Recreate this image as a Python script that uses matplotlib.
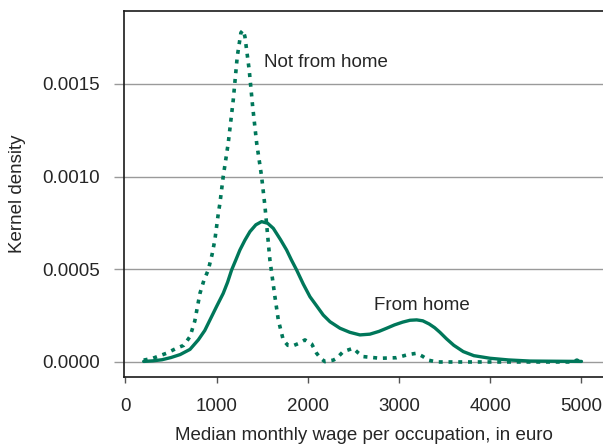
import matplotlib
matplotlib.use("Agg")
import matplotlib.pyplot as plt

plt.rcParams['font.family'] = ['Liberation Sans', 'DejaVu Sans']

# Kernel density, working from home
home_x = [200, 300, 400, 500, 600, 708, 800, 870, 927, 1000, 1072, 1120,
          1164, 1210, 1255, 1310, 1365, 1430, 1493, 1560, 1621, 1700, 1767,
          1820, 1877, 1950, 2023, 2100, 2169, 2243, 2352, 2460, 2571, 2680,
          2780, 2864, 2950, 3040, 3120, 3193, 3260, 3330, 3390, 3448, 3520,
          3600, 3704, 3820, 3997, 4200, 4435, 4700, 5000]
home_y = [0.000003, 0.000006, 0.000012, 0.000024, 0.00004, 0.000068, 0.00012,
          0.00017, 0.000227, 0.0003, 0.00037, 0.00043, 0.000496, 0.00055,
          0.000604, 0.000657, 0.000703, 0.00074, 0.000757, 0.000748,
          0.000721, 0.00066, 0.000604, 0.00055, 0.000496, 0.00042, 0.000352,
          0.0003, 0.000253, 0.000217, 0.000182, 0.00016, 0.000146, 0.00015,
          0.000165, 0.000182, 0.0002, 0.000215, 0.000225, 0.000227,
          0.000222, 0.000205, 0.000185, 0.00016, 0.000125, 0.00009,
          0.000056, 0.000034, 0.00002, 0.000011, 0.000005, 0.000004,
          0.000003]

# Kernel density, not working from home
away_x = [200, 300, 450, 560, 640, 708, 760, 817, 860, 908, 950, 981, 1018,
          1036, 1072, 1127, 1182, 1226, 1266, 1290, 1310, 1357, 1395, 1439,
          1493, 1530, 1584, 1639, 1676, 1730, 1780, 1840, 1900, 1968, 2042,
          2096, 2140, 2187, 2279, 2316, 2388, 2498, 2550, 2608, 2791, 2973,
          3100, 3193, 3260, 3320, 3412, 4000, 4500, 4900, 4950, 4990]
away_y = [0.00001, 0.00002, 0.000047, 0.000074, 0.00009, 0.000137, 0.00022,
          0.00037, 0.00044, 0.000496, 0.00058, 0.00066, 0.0008, 0.000856,
          0.001, 0.00118, 0.001413, 0.001647, 0.001776, 0.00179, 0.001755,
          0.001575, 0.001377, 0.00118, 0.001, 0.000838, 0.00055, 0.000352,
          0.000227, 0.000119, 0.00009, 0.000088, 0.0001, 0.000119, 0.000097,
          0.000047, 0.00002, 0.000002, 0.00001, 0.00002, 0.000056, 0.000074,
          0.00005, 0.000029, 0.00002, 0.000023, 0.00004, 0.000047, 0.00003,
          0.00001, 0.0, 0.0, 0.0, 0.0, 0.00001, 0.0]

x_ticks = [0, 1000, 2000, 3000, 4000, 5000]
y_ticks = [0.0, 0.0005, 0.0010, 0.0015]
y_labels = ["0.0000", "0.0005", "0.0010", "0.0015"]

green = "#00775a"
txt = "#262626"

fig = plt.figure(figsize=(6.03, 4.48), dpi=100)
ax = fig.add_axes([0.2056, 0.1585, 0.7944, 0.8169])

ax.grid(axis="y", color="#9a9a9a", linewidth=1.0)
ax.set_axisbelow(True)

ax.plot(away_x, away_y, color=green, linewidth=2.6, linestyle=(0, (1.1, 1.6)))
ax.plot(home_x, home_y, color=green, linewidth=2.4, solid_capstyle="round",
        solid_joinstyle="round")

ax.text(1519, 0.001613, "Not from home", fontsize=13.5, color=txt,
        va="center", ha="left")
ax.text(2725, 0.000307, "From home", fontsize=13.5, color=txt,
        va="center", ha="left")

ax.set_xlim(-16, 5236)
ax.set_ylim(-0.000081, 0.001893)
ax.set_xticks(x_ticks)
ax.set_yticks(y_ticks)
ax.set_yticklabels(y_labels)

ax.spines["right"].set_visible(False)
for s in ["left", "top", "bottom"]:
    ax.spines[s].set_color("#1a1a1a")
    ax.spines[s].set_linewidth(1.2)

ax.tick_params(axis="y", length=7, width=1.0, color="#9a9a9a", pad=10,
               labelsize=13.5, labelcolor=txt)
ax.tick_params(axis="x", length=4, width=1.0, color="#555555", pad=11,
               labelsize=13.5, labelcolor=txt)

ax.set_xlabel("Median monthly wage per occupation, in euro", fontsize=13.5,
              color=txt, labelpad=9)
ax.set_ylabel("Kernel density", fontsize=13.5, color=txt, labelpad=12)

fig.savefig("out.png", dpi=100)
